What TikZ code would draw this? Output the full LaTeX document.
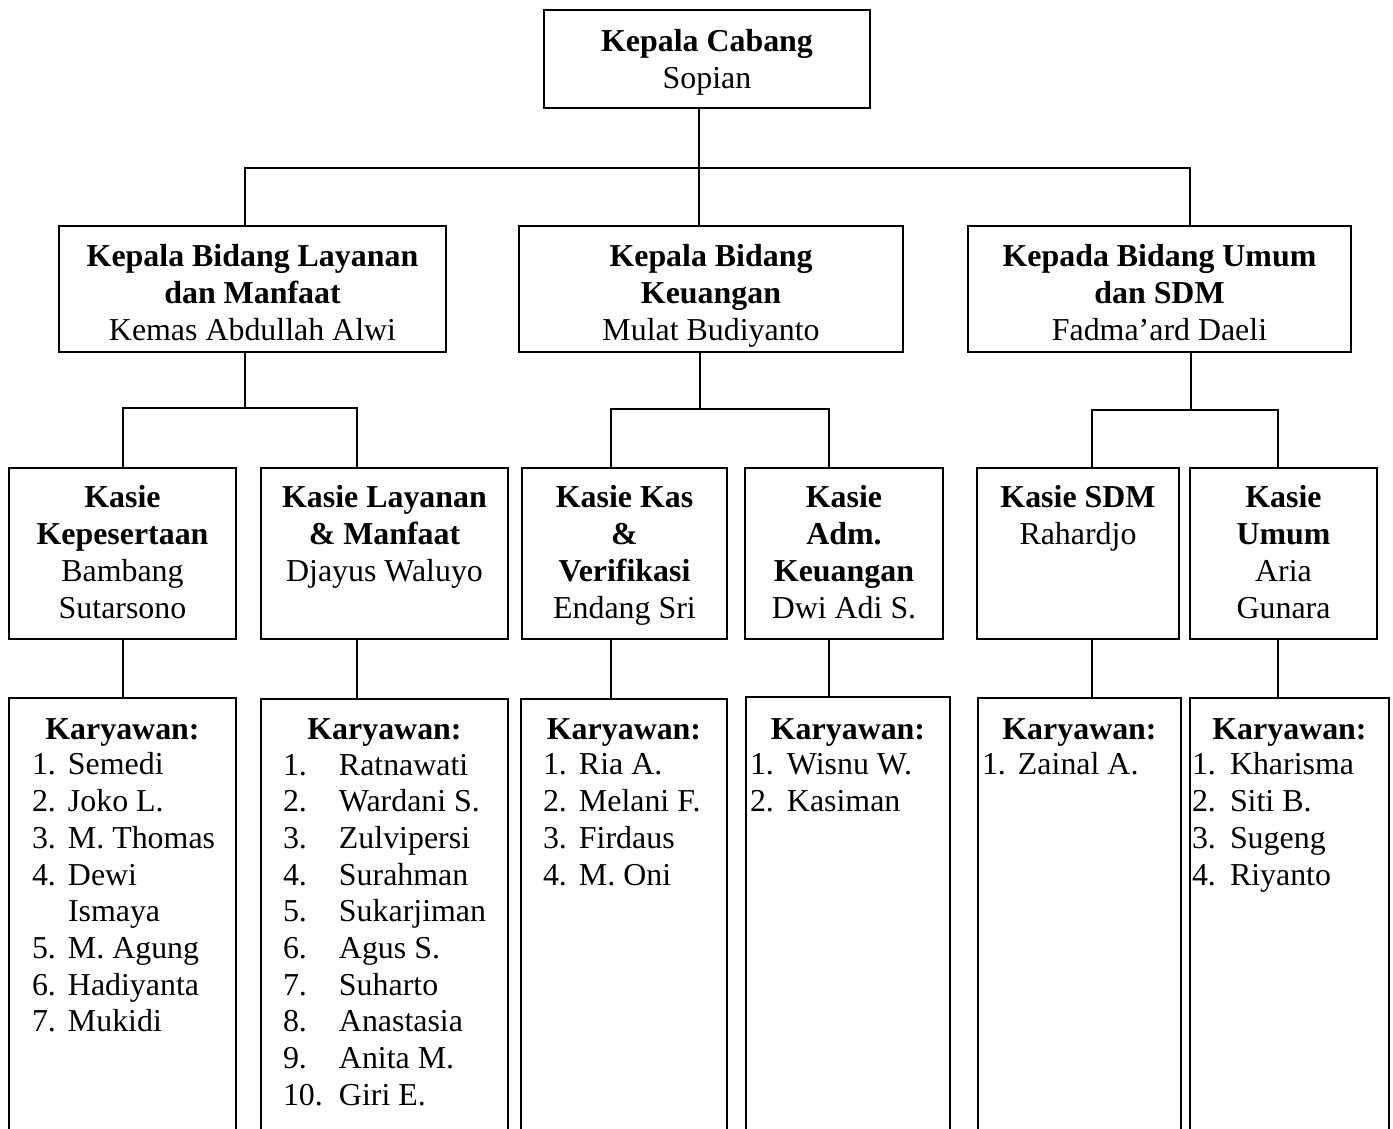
\documentclass[tikz,border=0pt]{standalone}
\usepackage{fontspec}
\setmainfont{Liberation Serif}
\newcommand\fs{\fontsize{31.9}{36.7}\selectfont}
\newcommand\kitem[3]{\makebox[#1][l]{#2}#3}
\tikzset{
  boxnode/.style={draw, line width=1.4pt, inner sep=0pt, outer sep=0pt, anchor=north west},
  openbox/.style={inner sep=0pt, outer sep=0pt, anchor=north west},
  txt/.style={inner sep=0pt, outer sep=0pt, anchor=north, align=center, font=\fs},
  lst/.style={inner sep=0pt, outer sep=0pt, anchor=north west, align=left, font=\fs},
  conn/.style={line width=1.4pt},
}
\begin{document}
\begin{tikzpicture}[x=1pt,y=-1pt]
\useasboundingbox (0,0) rectangle (1393,1129);
% ---- level 0
\node[boxnode, minimum width=326pt, minimum height=98pt] (top) at (544,10) {};
\node[txt] (ttop) at (707,26.3) {\strut\textbf{Kepala Cabang}\\Sopian};
% ---- level 1
\node[boxnode, minimum width=387pt, minimum height=126pt] (kbl) at (59,226) {};
\node[boxnode, minimum width=384pt, minimum height=126pt] (kbk) at (519,226) {};
\node[boxnode, minimum width=383pt, minimum height=126pt] (kbr) at (968,226) {};
\node[txt] (tkbl) at (252.5,241.3) {\strut\textbf{Kepala Bidang Layanan}\\\textbf{dan Manfaat}\\Kemas Abdullah Alwi};
\node[txt] (tkbk) at (711,241.3) {\strut\textbf{Kepala Bidang}\\\textbf{Keuangan}\\Mulat Budiyanto};
\node[txt] (tkbr) at (1159.5,241.3) {\strut\textbf{Kepada Bidang Umum}\\\textbf{dan SDM}\\Fadma’ard Daeli};
% ---- level 2 (Kasie)
\node[boxnode, minimum width=227pt, minimum height=171pt] (kk1) at (9,468) {};
\node[boxnode, minimum width=247pt, minimum height=171pt] (kk2) at (261,468) {};
\node[boxnode, minimum width=205pt, minimum height=171pt] (kk3) at (522,468) {};
\node[boxnode, minimum width=198pt, minimum height=171pt] (kk4) at (745,468) {};
\node[boxnode, minimum width=202pt, minimum height=171pt] (kk5) at (977,468) {};
\node[boxnode, minimum width=187pt, minimum height=171pt] (kk6) at (1190,468) {};
\node[txt] (tkk1) at (kk1.north |- 0,482.3) {\strut\textbf{Kasie}\\\textbf{Kepesertaan}\\Bambang\\Sutarsono};
\node[txt] (tkk2) at (kk2.north |- 0,482.3) {\strut\textbf{Kasie Layanan}\\\textbf{\& Manfaat}\\Djayus Waluyo};
\node[txt] (tkk3) at (kk3.north |- 0,482.3) {\strut\textbf{Kasie Kas}\\\textbf{\&}\\\textbf{Verifikasi}\\Endang Sri};
\node[txt] (tkk4) at (kk4.north |- 0,482.3) {\strut\textbf{Kasie}\\\textbf{Adm.}\\\textbf{Keuangan}\\Dwi Adi S.};
\node[txt] (tkk5) at (kk5.north |- 0,482.3) {\strut\textbf{Kasie SDM}\\Rahardjo};
\node[txt] (tkk6) at (kk6.north |- 0,482.3) {\strut\textbf{Kasie}\\\textbf{Umum}\\Aria\\Gunara};
% ---- level 3 (Karyawan, open at the bottom)
\node[openbox, minimum width=227pt, minimum height=431pt] (kw1) at (9,698) {};
\node[openbox, minimum width=247pt, minimum height=430pt] (kw2) at (261,699) {};
\node[openbox, minimum width=206pt, minimum height=430pt] (kw3) at (521,699) {};
\node[openbox, minimum width=204pt, minimum height=432pt] (kw4) at (746,697) {};
\node[openbox, minimum width=203pt, minimum height=431pt] (kw5) at (978,698) {};
\node[openbox, minimum width=199pt, minimum height=431pt] (kw6) at (1190,698) {};
\foreach \k in {kw1,kw2,kw3,kw4,kw5,kw6}{
  \draw[conn] (\k.south west) -- (\k.north west) -- (\k.north east) -- (\k.south east);
}
\foreach \k in {1,...,6}{
  \node[txt] (hkw\k) at (kw\k.north |- 0,714.3) {\strut\textbf{Karyawan:}};
}
\node[lst] (lkw1) at (32,749.3) {\strut\kitem{36pt}{1.}{Semedi}\\\kitem{36pt}{2.}{Joko L.}\\\kitem{36pt}{3.}{M. Thomas}\\\kitem{36pt}{4.}{Dewi}\\\kitem{36pt}{}{Ismaya}\\\kitem{36pt}{5.}{M. Agung}\\\kitem{36pt}{6.}{Hadiyanta}\\\kitem{36pt}{7.}{Mukidi}};
\node[lst] (lkw2) at (283,749.3) {\strut\kitem{56pt}{1.}{Ratnawati}\\\kitem{56pt}{2.}{Wardani S.}\\\kitem{56pt}{3.}{Zulvipersi}\\\kitem{56pt}{4.}{Surahman}\\\kitem{56pt}{5.}{Sukarjiman}\\\kitem{56pt}{6.}{Agus S.}\\\kitem{56pt}{7.}{Suharto}\\\kitem{56pt}{8.}{Anastasia}\\\kitem{56pt}{9.}{Anita M.}\\\kitem{56pt}{10.}{Giri E.}};
\node[lst] (lkw3) at (543,749.3) {\strut\kitem{36pt}{1.}{Ria A.}\\\kitem{36pt}{2.}{Melani F.}\\\kitem{36pt}{3.}{Firdaus}\\\kitem{36pt}{4.}{M. Oni}};
\node[lst] (lkw4) at (750,749.3) {\strut\kitem{37pt}{1.}{Wisnu W.}\\\kitem{37pt}{2.}{Kasiman}};
\node[lst] (lkw5) at (982,749.3) {\strut\kitem{36pt}{1.}{Zainal A.}};
\node[lst] (lkw6) at (1192,749.3) {\strut\kitem{38pt}{1.}{Kharisma}\\\kitem{38pt}{2.}{Siti B.}\\\kitem{38pt}{3.}{Sugeng}\\\kitem{38pt}{4.}{Riyanto}};
% ---- connector coordinates
\coordinate (hb) at (699,168);
\coordinate (xL) at (245,168);
\coordinate (xR) at (1190,168);
\coordinate (hL) at (245,408);
\coordinate (hM) at (700,409);
\coordinate (hR) at (1191,410);
\coordinate (c1) at (123,0);
\coordinate (c2) at (357,0);
\coordinate (c3) at (611,0);
\coordinate (c4) at (829,0);
\coordinate (c5) at (1092,0);
\coordinate (c6) at (1278,0);
% ---- connectors
\draw[conn] (top.south -| hb) -- (kbk.north -| hb);
\draw[conn] (kbl.north -| xL) -- (xL) -- (xR) -- (kbr.north -| xR);
\draw[conn] (kbl.south -| hL) -- (hL);
\draw[conn] (kk1.north -| c1) |- (hL) -| (kk2.north -| c2);
\draw[conn] (kbk.south -| hM) -- (hM);
\draw[conn] (kk3.north -| c3) |- (hM) -| (kk4.north -| c4);
\draw[conn] (kbr.south -| hR) -- (hR);
\draw[conn] (kk5.north -| c5) |- (hR) -| (kk6.north -| c6);
\draw[conn] (kk1.south -| c1) -- (kw1.north -| c1);
\draw[conn] (kk2.south -| c2) -- (kw2.north -| c2);
\draw[conn] (kk3.south -| c3) -- (kw3.north -| c3);
\draw[conn] (kk4.south -| c4) -- (kw4.north -| c4);
\draw[conn] (kk5.south -| c5) -- (kw5.north -| c5);
\draw[conn] (kk6.south -| c6) -- (kw6.north -| c6);
\end{tikzpicture}
\end{document}
